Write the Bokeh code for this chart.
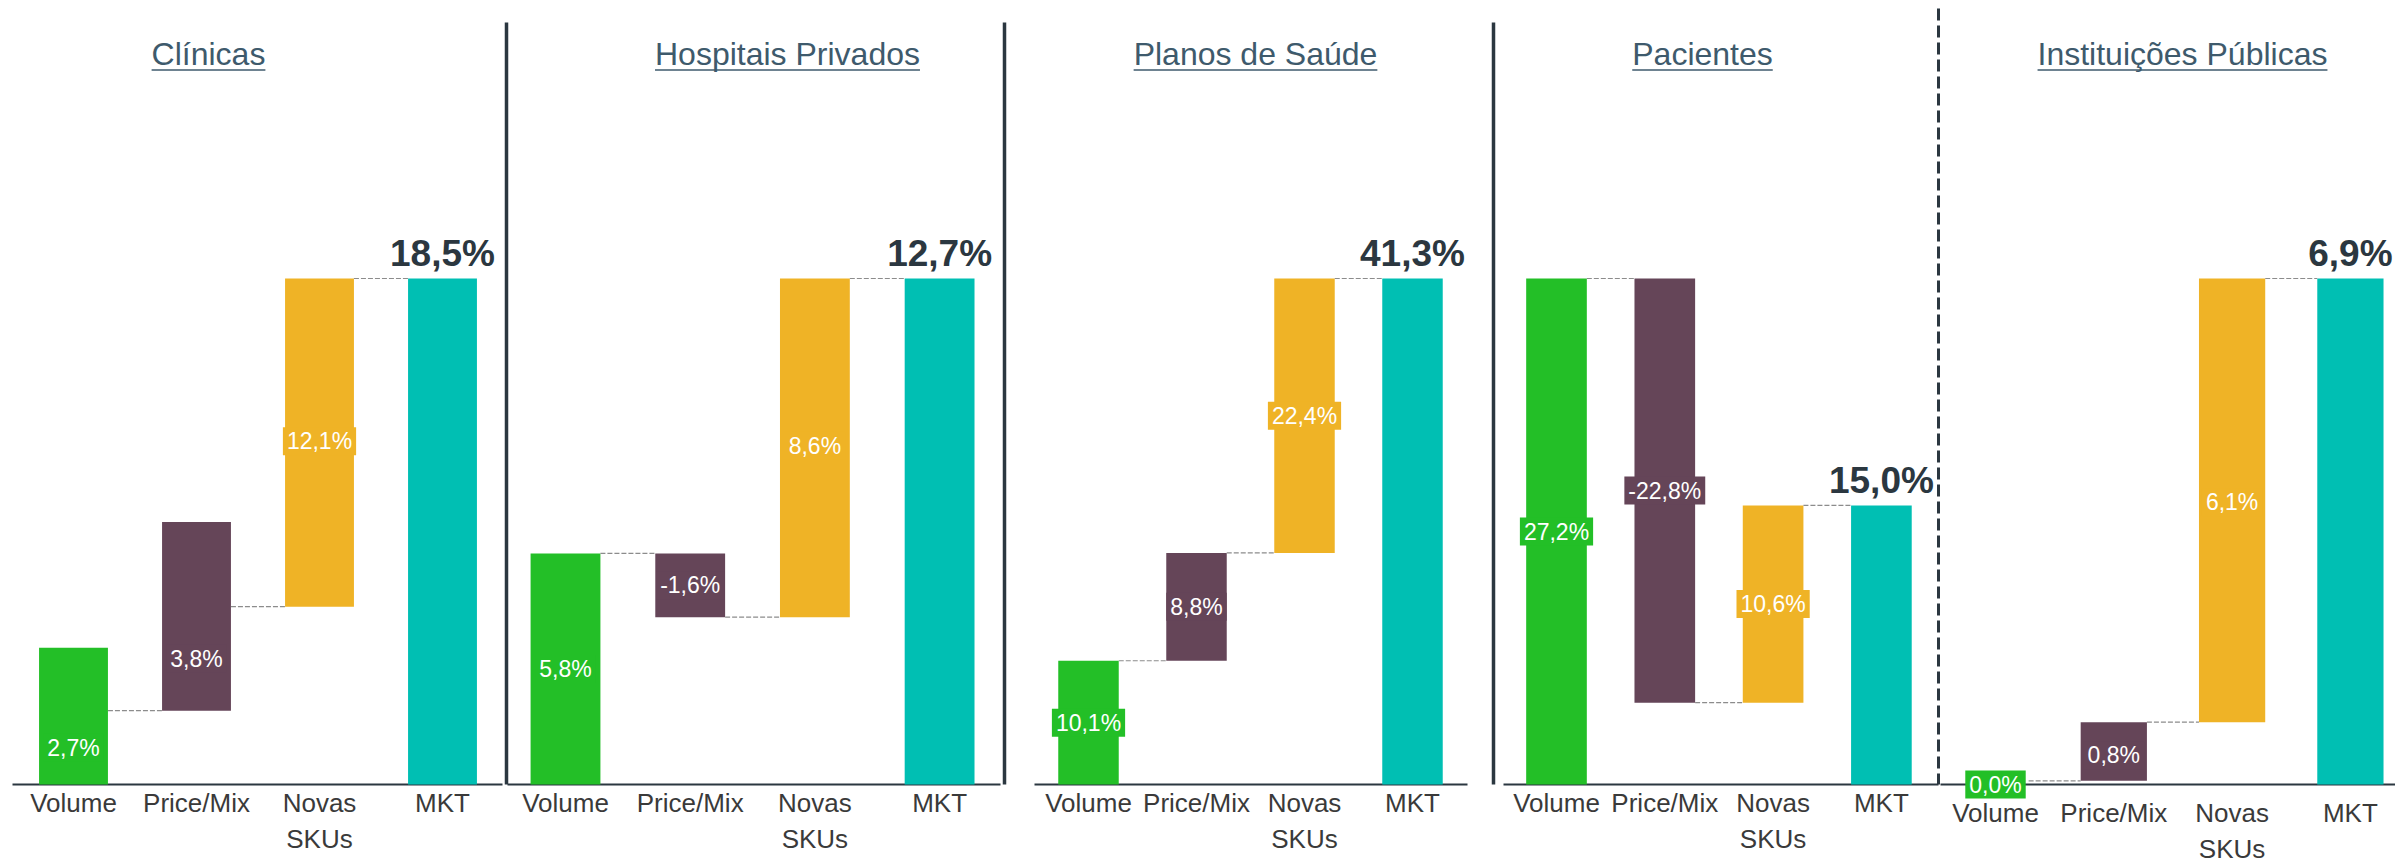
from bokeh.plotting import figure
from bokeh.models import Range1d, Label
from bokeh.core.properties import value
from bokeh.embed import file_html
from bokeh.resources import INLINE

# ---------------- data ----------------
TITLES = ["Clínicas", "Hospitais Privados", "Planos de Saúde", "Pacientes", "Instituições Públicas"]
CATEGORIES = ["Volume", "Price/Mix", "Novas\nSKUs", "MKT"]

# labelled values (%) : Volume, Price/Mix, Novas SKUs, MKT
clinicas_values = [2.7, 3.8, 12.1, 18.5]
hospitais_values = [5.8, -1.6, 8.6, 12.7]
planos_values = [10.1, 8.8, 22.4, 41.3]
pacientes_values = [27.2, -22.8, 10.6, 15.0]
instituicoes_values = [0.0, 0.8, 6.1, 6.9]

# bar extents as drawn in the picture (%)
clinicas_bottom = [0.0, 2.7, 6.5, 0.0]
clinicas_top = [5.0, 9.6, 18.5, 18.5]
hospitais_bottom = [0.0, 4.2, 4.2, 0.0]
hospitais_top = [5.8, 5.8, 12.7, 12.7]
planos_bottom = [0.0, 10.1, 18.9, 0.0]
planos_top = [10.1, 18.9, 41.3, 41.3]
pacientes_bottom = [0.0, 4.4, 4.4, 0.0]
pacientes_top = [27.2, 27.2, 15.0, 15.0]
instituicoes_bottom = [0.0, 0.05, 0.85, 0.0]
instituicoes_top = [0.0, 0.85, 6.9, 6.9]

VALUES = [clinicas_values, hospitais_values, planos_values, pacientes_values, instituicoes_values]
BOTTOMS = [clinicas_bottom, hospitais_bottom, planos_bottom, pacientes_bottom, instituicoes_bottom]
TOPS = [clinicas_top, hospitais_top, planos_top, pacientes_top, instituicoes_top]

# ---------------- style / layout ----------------
COLORS = ["#23BF27", "#654558", "#EFB326", "#00BFB3"]
DARK = "#2B3740"
TITLE_COLOR = "#3E5A6C"
CAT_COLOR = "#3A3A3A"
FONT = "Liberation Sans"

W, H = 2395, 863
X0, Y0 = 0, 0
BASE_Y, TOP_Y = 784, 278           # pixel rows of baseline / highest level
CENTER0 = [73, 565, 1088, 1556, 1995]
SPACING = [123, 124.7, 108, 108.3, 118.3]
BAR_W = 0.56
TITLE_X = [208, 787, 1255, 1702, 2182]
AXIS_SPAN = [(12, 502), (507, 1000), (1034, 1467), (1503, 1938), (1940, 2395)]
SOLID_SEP = [506, 1004, 1493]
DASHED_SEP = 1938
CAT_Y = [787, 787, 787, 787, 797]

AW = {" ": 278, "C": 722, "H": 722, "I": 278, "P": 667, "S": 667, "a": 556, "b": 556,
      "c": 500, "d": 556, "e": 556, "i": 222, "í": 278, "l": 222, "n": 556, "o": 556,
      "p": 556, "r": 333, "s": 500, "t": 278, "u": 556, "ú": 556, "v": 500, "ç": 500,
      "õ": 556}
AWB = {",": 278, "%": 889}


def text_w(s, size, table, default=556):
    return sum(table.get(ch, default) for ch in s) * size / 1000.0


def fmt(v):
    return f"{v:.1f}".replace(".", ",") + "%"


p = figure(width=W, height=H, output_backend="svg", toolbar_location=None,
           x_range=Range1d(X0, X0 + W), y_range=Range1d(Y0 + H, Y0),
           x_axis_type=None, y_axis_type=None, min_border=0,
           outline_line_color=None, background_fill_color="white",
           border_fill_color="white")
p.grid.visible = False

extra_x, extra_y = {}, {}
for i in range(5):
    s, c0 = SPACING[i], CENTER0[i]
    extra_x[f"x{i}"] = Range1d((X0 - c0) / s, (X0 + W - c0) / s)
    top_level = max(TOPS[i])
    k = (BASE_Y - TOP_Y) / top_level
    extra_y[f"y{i}"] = Range1d((BASE_Y - (Y0 + H)) / k, (BASE_Y - Y0) / k)
p.extra_x_ranges = extra_x
p.extra_y_ranges = extra_y

# separators
for sx in SOLID_SEP:
    p.segment(x0=[sx], y0=[22], x1=[sx], y1=[BASE_Y], line_color=DARK, line_width=3.5)
p.segment(x0=[DASHED_SEP], y0=[8], x1=[DASHED_SEP], y1=[BASE_Y], line_color=DARK,
          line_width=3, line_dash="12 5")

for i in range(5):
    xr, yr = f"x{i}", f"y{i}"
    vals, bots, tops = VALUES[i], BOTTOMS[i], TOPS[i]
    k = (BASE_Y - TOP_Y) / max(tops)
    xs = list(range(4))

    # axis line
    a0, a1 = AXIS_SPAN[i]
    p.segment(x0=[a0], y0=[BASE_Y], x1=[a1], y1=[BASE_Y], line_color=DARK, line_width=2)

    # bars
    p.vbar(x=xs, width=BAR_W, bottom=bots, top=tops, fill_color=COLORS, line_color=None,
           x_range_name=xr, y_range_name=yr)

    # connectors
    conn = []
    for j in range(3):
        nxt = j + 1
        if nxt == 3 or vals[nxt] >= 0:
            conn.append(bots[nxt] if nxt < 3 else tops[nxt])
        else:
            conn.append(tops[nxt])
    p.segment(x0=[j + BAR_W / 2 for j in range(3)], x1=[j + 1 - BAR_W / 2 for j in range(3)],
              y0=conn, y1=conn, line_color="#8C8C8C", line_width=1.2, line_dash="5 2",
              x_range_name=xr, y_range_name=yr)

    # value labels in the middle of each step
    cum = 0.0
    for j in range(3):
        start, end = cum, cum + vals[j]
        cum = end
        lab = Label(x=j, y=(start + end) / 2, x_range_name=xr, y_range_name=yr,
                    text=fmt(vals[j]), text_color="white", text_font_size="23px",
                    text_font=FONT, text_align="center", text_baseline="middle",
                    background_fill_color=COLORS[j], padding=(4, 1))
        p.add_layout(lab)

    # total label
    tw = text_w(fmt(vals[3]), 37, AWB)
    shift = min(0.0, (X0 + W - 2) - (CENTER0[i] + 3 * SPACING[i] + tw / 2))
    p.text(x=[3], y=[tops[3] + 25 / k], text=[fmt(vals[3])], text_font=value(FONT),
           text_font_style="bold", text_font_size="37px", text_color=DARK,
           text_align="center", text_baseline="middle", x_offset=shift,
           x_range_name=xr, y_range_name=yr)

    # category labels
    p.text(x=xs, y=[CAT_Y[i]] * 4, text=CATEGORIES, text_font=value(FONT),
           text_font_size="26px", text_color=CAT_COLOR, text_align="center",
           text_baseline="top", text_line_height=1.23, x_range_name=xr)

    # underlined title
    tx = TITLE_X[i]
    p.text(x=[tx], y=[53], text=[TITLES[i]], text_font=value(FONT), text_font_size="32px",
           text_color=TITLE_COLOR, text_align="center", text_baseline="middle")
    uw = text_w(TITLES[i], 32, AW)
    p.segment(x0=[tx - uw / 2], x1=[tx + uw / 2], y0=[69.5], y1=[69.5],
              line_color=TITLE_COLOR, line_width=1.6)

open("out.html", "w").write(file_html(p, INLINE))
